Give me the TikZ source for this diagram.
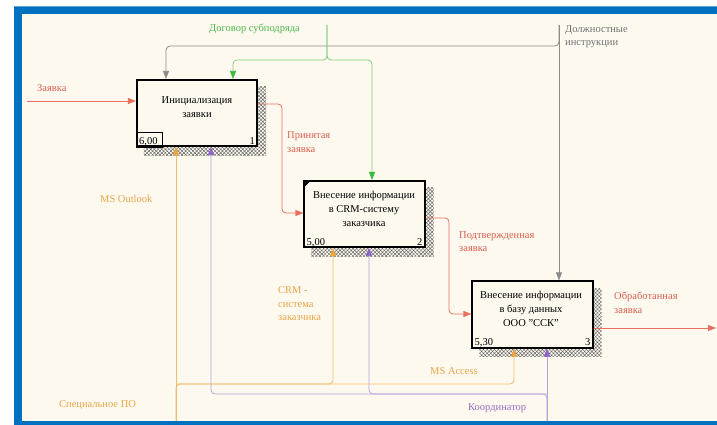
\documentclass[tikz,border=0pt]{standalone}
\usepackage{fontspec}
\setmainfont{Liberation Serif}
\usetikzlibrary{arrows.meta,patterns.meta,calc}

\definecolor{frameblue}{HTML}{0070C0}
\definecolor{frameedge}{HTML}{5BA3DB}
\definecolor{paper}{HTML}{FDF9EF}
\definecolor{flowred}{HTML}{E8705F}
\definecolor{txtred}{HTML}{D9604F}
\definecolor{ctlgray}{HTML}{8A8A8A}
\definecolor{txtgray}{HTML}{707070}
\definecolor{ctlgreen}{HTML}{80CC80}
\definecolor{tipgreen}{HTML}{3CB83C}
\definecolor{txtgreen}{HTML}{4DB84D}
\definecolor{mechorange}{HTML}{F2BD6B}
\definecolor{tiporange}{HTML}{F0A53A}
\definecolor{txtorange}{HTML}{E9A548}
\definecolor{mechpurple}{HTML}{B8A0DC}
\definecolor{tippurple}{HTML}{8E64CC}
\definecolor{txtpurple}{HTML}{9070C8}

\pgfdeclarelayer{back}
\pgfsetlayers{back,main}

\begin{document}
\begin{tikzpicture}[x=1pt,y=-1pt,
  every node/.style={inner sep=0pt},
  lbl/.style={font=\fontsize{10.5}{13.5}\selectfont, anchor=west, align=left},
  boxtxt/.style={font=\fontsize{10.5}{14}\selectfont, align=center},
  num/.style={font=\fontsize{10.5}{12}\selectfont, anchor=base},
  activity/.style={draw=black, line width=1.6pt, fill=paper, rectangle,
                   minimum width=120.5pt, minimum height=66.5pt},
  shade/.style={pattern={Hatch[angle=45,distance=2.6pt,line width=0.45pt]},
                pattern color=black!60},
  flow/.style={line width=0.8pt, rounded corners=4pt},
  tipstyle/.style={-{Triangle[length=8pt,width=6pt,color=#1]}},
  redflow/.style={flow, draw=flowred, tipstyle=flowred},
  grayflow/.style={flow, draw=ctlgray, tipstyle=ctlgray},
  greenflow/.style={flow, draw=ctlgreen, tipstyle=tipgreen},
  orangeflow/.style={flow, draw=mechorange, tipstyle=tiporange},
  purpleflow/.style={flow, draw=mechpurple, tipstyle=tippurple}
]
\useasboundingbox (0,0) rectangle (717,425);

% activity boxes
\node[activity] (b1) at (197,113) {};
\node[activity] (b2) at (364.5,214) {};
\node[activity] (b3) at (532.5,314.5) {};

\node[boxtxt] (b1t) at (197,107.5) {Инициализация\\заявки};
\node[boxtxt] (b2t) at (364,209) {Внесение информации\\в CRM-систему\\заказчика};
\node[boxtxt] (b3t) at (531,309) {Внесение информации\\в базу данных\\ООО "ССК"};

% cost and number marks
\draw[line width=0.8pt] (b1.south west) rectangle ($(b1.south west)+(26,-15)$);
\node[num, anchor=base west] (c1) at ($(b1.south west)+(3,-3)$) {6,00};
\node[num, anchor=base east] (n1) at ($(b1.south east)+(-3,-3)$) {1};
\node[num, anchor=base west] (c2) at ($(b2.south west)+(3,-3)$) {5,00};
\node[num, anchor=base east] (n2) at ($(b2.south east)+(-3,-3)$) {2};
\node[num, anchor=base west] (c3) at ($(b3.south west)+(3,-3)$) {5,30};
\node[num, anchor=base east] (n3) at ($(b3.south east)+(-3,-3)$) {3};
\fill ($(b2.north west)+(1,1)$) -- ++(6,0) -- ++(-6,6) -- cycle;

% page, frame and box shadows
\begin{pgfonlayer}{back}
  \fill[white] (0,0) rectangle (717,425);
  \fill[paper] (22,14) rectangle (717,421);
  \fill[frameblue] (14,6) rectangle (717,14);
  \fill[frameblue] (14,6) rectangle (22,425);
  \fill[frameblue] (14,421) rectangle (717,425);
  \draw[frameedge, line width=1pt] (14,6.5) -- (717,6.5);
  \foreach \b in {b1,b2,b3}{
    \fill[shade] ($(\b.north west)+(8,8)$) rectangle ($(\b.south east)+(8,8)$);
  }
\end{pgfonlayer}

% junction and end points
\coordinate (inSrc) at (27,101);
\coordinate (r1a) at (282,104);
\coordinate (r1b) at (282,213);
\coordinate (r2a) at (449,218);
\coordinate (r2b) at (449,314);
\coordinate (outEnd) at (716,328);
\coordinate (kSrc) at (559,25);
\coordinate (kFork) at (559,46);
\coordinate (kL) at (166,46);
\coordinate (gSrc) at (327,25);
\coordinate (gFork) at (327,60);
\coordinate (gL) at (233,60);
\coordinate (gR) at (372,60);
\coordinate (oSrc) at (176,421);
\coordinate (oFork) at (176,384);
\coordinate (oC) at (333,384);
\coordinate (oR) at (514,384);
\coordinate (vSrc) at (547,421);
\coordinate (vFork) at (547,394);
\coordinate (vC) at (369,394);
\coordinate (vL) at (211,394);

% inputs and outputs
\draw[redflow] (inSrc) -- (inSrc -| b1.west);
\draw[redflow] (b1.east |- r1a) -- (r1a) -- (r1b) -- (r1b -| b2.west);
\draw[redflow] (b2.east |- r2a) -- (r2a) -- (r2b) -- (r2b -| b3.west);
\draw[redflow] (b3.east |- outEnd) -- (outEnd);

% controls
\draw[grayflow] (kSrc) -- (kSrc |- b3.north);
\draw[grayflow] (kSrc) -- (kFork) -- (kL) -- (kL |- b1.north);
\draw[greenflow] (gSrc) -- (gFork) -- (gL) -- (gL |- b1.north);
\draw[greenflow] (gSrc) -- (gFork) -- (gR) -- (gR |- b2.north);

% mechanisms
\draw[orangeflow] (oSrc) -- (oSrc |- b1.south);
\draw[orangeflow] (oSrc) -- (oFork) -- (oR) -- (oR |- b3.south);
\draw[orangeflow] (oFork) -- (oC) -- (oC |- b2.south);
\draw[purpleflow] (vSrc) -- (vSrc |- b3.south);
\draw[purpleflow] (vSrc) -- (vFork) -- (vL) -- (vL |- b1.south);
\draw[purpleflow] (vFork) -- (vC) -- (vC |- b2.south);

% arrow labels
\node[lbl, text=txtred] (lIn) at (37,88) {Заявка};
\node[lbl, text=txtred] (lR1) at (287,142) {Принятая\\заявка};
\node[lbl, text=txtred] (lR2) at (459,241.5) {Подтвержденная\\заявка};
\node[lbl, text=txtred] (lOut) at (614,303) {Обработанная\\заявка};
\node[lbl, text=txtgreen] (lG) at (209,29) {Договор субподряда};
\node[lbl, text=txtgray] (lK) at (565,36.5) {Должностные\\инструкции};
\node[lbl, text=txtorange] (lO1) at (100,199) {MS Outlook};
\node[lbl, text=txtorange] (lO2) at (278,304) {CRM -\\система\\заказчика};
\node[lbl, text=txtorange] (lO3) at (430,371) {MS Access};
\node[lbl, text=txtorange] (lO4) at (59,405) {Специальное ПО};
\node[lbl, text=txtpurple] (lV) at (468,408) {Координатор};
\end{tikzpicture}
\end{document}
